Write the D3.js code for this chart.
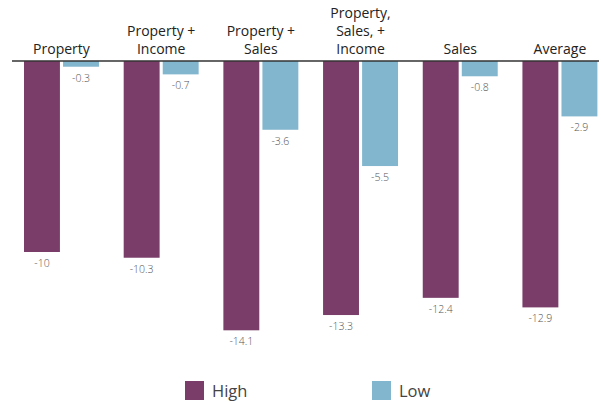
<!DOCTYPE html>
<html>
<head>
<meta charset="utf-8">
<script src="https://cdn.jsdelivr.net/npm/d3@7"></script>
<style>
  html, body { margin: 0; padding: 0; background: #fff; }
  svg { display: block; font-family: "Open Sans", "DejaVu Sans", sans-serif; }
</style>
</head>
<body>
<svg id="chart" width="601" height="402"></svg>
<script>
// Tax-base categories (multi-line headers) and the two series
const categories = ["Property", "Property + Income", "Property + Sales", "Property, Sales, + Income", "Sales", "Average"];
const categoryLines = [["Property"], ["Property +", "Income"], ["Property +", "Sales"], ["Property,", "Sales, +", "Income"], ["Sales"], ["Average"]];
const seriesNames = ["High", "Low"];
const highValues = [-10, -10.3, -14.1, -13.3, -12.4, -12.9];
const lowValues = [-0.3, -0.7, -3.6, -5.5, -0.8, -2.9];
const seriesColors = ["#7a3d69", "#82b6ce"];

const svg = d3.select("#chart");
const baseY = 61;

const x0 = d3.scaleBand().domain(categories).range([24, 597.4]).paddingInner(0.248).paddingOuter(0);
const x1 = d3.scaleBand().domain(seriesNames).range([0, x0.bandwidth()]).paddingInner(0.08);
const y = d3.scaleLinear().domain([0, -15]).range([baseY, baseY + 15 * 19.1]);
const color = d3.scaleOrdinal().domain(seriesNames).range(seriesColors);

const rows = categories.map((c, i) => ({ cat: c, lines: categoryLines[i], vals: [
  { s: "High", v: highValues[i] }, { s: "Low", v: lowValues[i] }
]}));

const groups = svg.append("g").selectAll("g").data(rows).join("g")
  .attr("transform", d => `translate(${x0(d.cat)},0)`);

groups.selectAll("rect").data(d => d.vals).join("rect")
  .attr("x", d => x1(d.s))
  .attr("y", y(0))
  .attr("width", x1.bandwidth())
  .attr("height", d => y(d.v) - y(0))
  .attr("fill", d => color(d.s));

groups.selectAll("text.val").data(d => d.vals).join("text")
  .attr("class", "val")
  .attr("x", d => x1(d.s) + x1.bandwidth() / 2)
  .attr("y", d => y(d.v) + 15)
  .attr("text-anchor", "middle")
  .attr("font-size", 10.5)
  .attr("font-weight", 300)
  .attr("fill", "#555")
  .text(d => String(d.v));

// Category headers above the zero line
groups.each(function(d) {
  const g = d3.select(this);
  const n = d.lines.length;
  d.lines.forEach((line, k) => {
    g.append("text")
      .attr("x", x0.bandwidth() / 2)
      .attr("y", 54 - (n - 1 - k) * 18)
      .attr("text-anchor", "middle")
      .attr("font-size", 14)
      .attr("fill", "#222")
      .text(line);
  });
});

// Zero line
svg.append("line")
  .attr("x1", 12).attr("x2", 599)
  .attr("y1", y(0)).attr("y2", y(0))
  .attr("stroke", "#333").attr("stroke-width", 1.5);

// Legend
const legendX = [185, 372];
const legend = svg.append("g").selectAll("g").data(seriesNames).join("g")
  .attr("transform", (d, i) => `translate(${legendX[i]},381)`);
legend.append("rect").attr("width", 19).attr("height", 19).attr("fill", d => color(d));
legend.append("text").attr("x", 27).attr("y", 15.5)
  .attr("font-size", 16.5).attr("fill", "#444").text(d => d);
</script>
</body>
</html>
